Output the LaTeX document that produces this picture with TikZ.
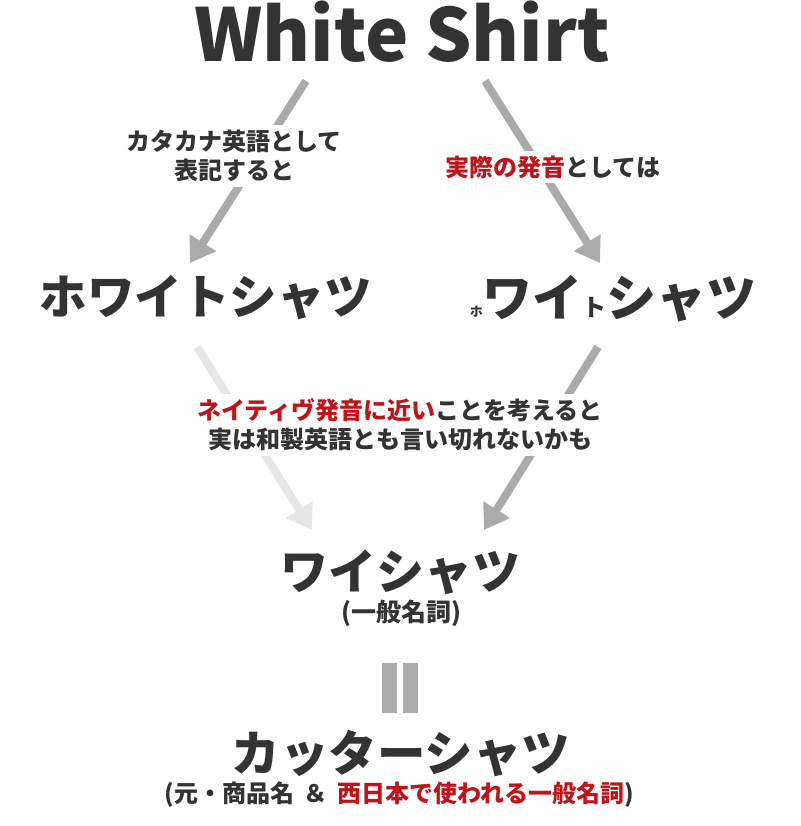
\documentclass[tikz,border=0pt]{standalone}
\usepackage{fontspec}
\setmainfont{Noto Sans CJK JP}
\usetikzlibrary{arrows.meta}
\definecolor{ink}{HTML}{333333}
\definecolor{hl}{HTML}{C0141B}
\definecolor{arr}{HTML}{AAAAAA}
\definecolor{arrlight}{HTML}{E6E6E6}
\tikzset{
  txt/.style={text=ink, inner sep=0pt, font=\bfseries},
  lbl/.style={text=ink, fill=white, align=center, inner sep=5pt, font=\bfseries\fontsize{24}{29}\selectfont},
  conn/.style={draw=arr, line width=8pt, -{Triangle[width=30pt,length=24pt]}},
  connlight/.style={conn, draw=arrlight},
  bar/.style={fill=arr, draw=none},
}
\begin{document}
\begin{tikzpicture}[x=1pt,y=-1pt]
\useasboundingbox (0,0) rectangle (800,826);
% nodes
\node[txt, anchor=base, text height=56pt, text depth=2pt, font=\bfseries\fontsize{73}{73}\selectfont] (ws) at (402,62) {White Shirt};
\node[txt, font=\bfseries\fontsize{47.5}{47.5}\selectfont] (hw1) at (206,298) {ホワイトシャツ};
\node[txt, anchor=base east] (hw2) at (757,316) {{\fontsize{13}{13}\selectfont ホ}{\fontsize{50}{50}\selectfont ワイ}{\fontsize{24}{24}\selectfont ト}{\fontsize{50}{50}\selectfont シャツ}};
\node[txt, font=\bfseries\fontsize{48}{48}\selectfont] (ys) at (400,572) {ワイシャツ};
\node[txt, font=\bfseries\fontsize{25}{25}\selectfont] (ysn) at (401,613) {(一般名詞)};
\node[txt, font=\bfseries\fontsize{48.5}{48.5}\selectfont] (cs) at (401,754) {カッターシャツ};
\node[txt, font=\bfseries\fontsize{24}{24}\selectfont] (csn) at (399,795) {(元・商品名\hspace{0.4em}＆\hspace{0.4em}\textcolor{hl}{西日本で使われる一般名詞})};
% connector endpoints
\coordinate (a1s) at (306,81);
\coordinate (a1e) at (190,263);
\coordinate (a2s) at (485,81);
\coordinate (a2e) at (600,263);
\coordinate (a3s) at (197,347);
\coordinate (a3e) at (312,530);
\coordinate (a4s) at (598,347);
\coordinate (a4e) at (484,530);
\draw[conn] (a1s) -- (a1e);
\draw[conn] (a2s) -- (a2e);
\draw[connlight] (a3s) -- (a3e);
\draw[conn] (a4s) -- (a4e);
% labels over connectors
\node[lbl] (l1) at (234,156) {カタカナ英語として\\表記すると};
\node[lbl] (l2) at (553,167) {\textcolor{hl}{実際の発音}としては};
\node[lbl] (l3) at (400,425) {\textcolor{hl}{ネイティヴ発音に近い}ことを考えると\\実は和製英語とも言い切れないかも};
% equals sign
\path[bar] (382,663) rectangle (397,713);
\path[bar] (403,663) rectangle (418,713);
\node[inner sep=0pt] (eq) at (400,688) {};
\end{tikzpicture}
\end{document}
